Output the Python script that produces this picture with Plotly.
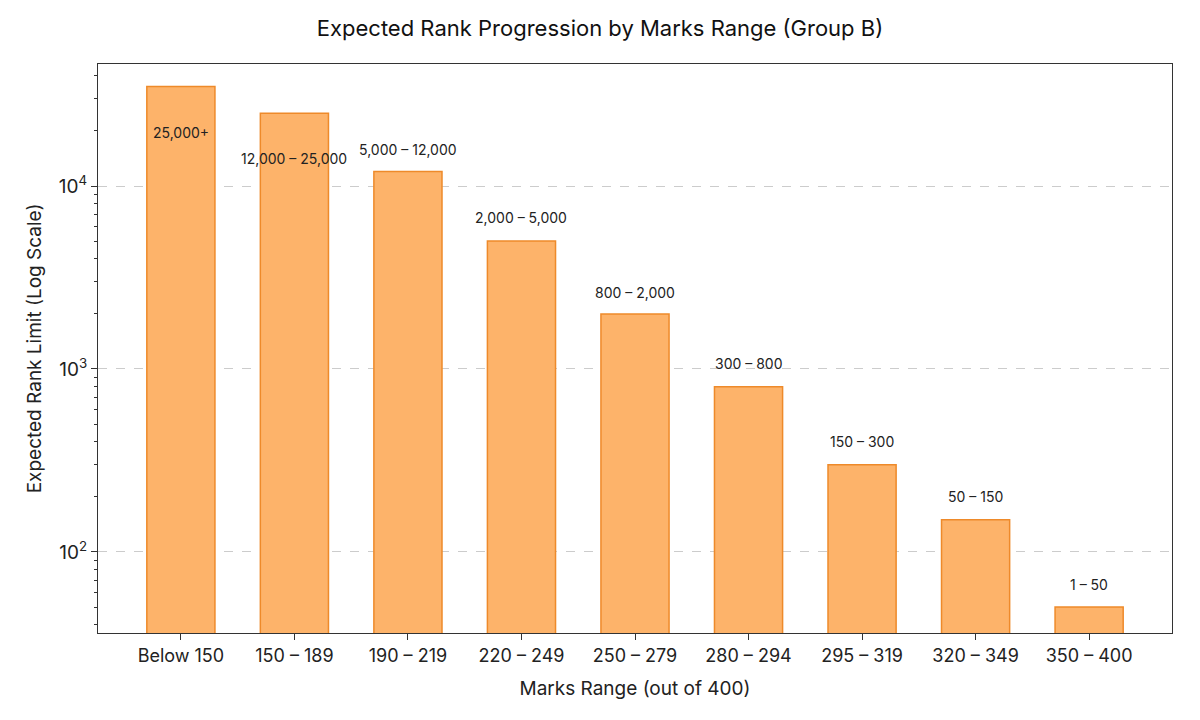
import math
import plotly.graph_objects as go

categories = ["Below 150", "150 – 189", "190 – 219", "220 – 249", "250 – 279",
              "280 – 294", "295 – 319", "320 – 349", "350 – 400"]
rank_limit = [35000, 25000, 12000, 5000, 2000, 800, 300, 150, 50]
range_labels = ["25,000+", "12,000 – 25,000", "5,000 – 12,000", "2,000 – 5,000",
                "800 – 2,000", "300 – 800", "150 – 300", "50 – 150", "1 – 50"]
label_y = [19500, 14060, 15900, 6690, 2630, 1065, 404, 200, 66]

major_vals = [100, 1000, 10000]
major_text = ["10<sup>2</sup>", "10<sup>3</sup>", "10<sup>4</sup>"]
minor_vals = [m * d for d in (10, 100, 1000, 10000) for m in range(2, 10)]

FONT = "Inter, Roboto, sans-serif"

fig = go.Figure()
fig.add_trace(go.Bar(
    x=list(range(len(categories))), y=rank_limit, width=0.6,
    marker=dict(color="#FDB36A", line=dict(color="#EE8A2A", width=1.5)),
    showlegend=False,
))

for i, (lab, ly) in enumerate(zip(range_labels, label_y)):
    fig.add_annotation(x=i, y=math.log10(ly), yref="y", xref="x", text=lab, showarrow=False,
                       yanchor="middle", xanchor="center",
                       font=dict(family=FONT, size=14, color="#222"))

fig.update_layout(
    width=1200, height=720,
    margin=dict(l=98, r=28, t=64, b=87),
    paper_bgcolor="white", plot_bgcolor="white",
    title=dict(text="Expected Rank Progression by Marks Range (Group B)",
               x=0.5, xanchor="center", y=1 - 28 / 720, yanchor="middle",
               font=dict(family=FONT, size=22, color="#111")),
    font=dict(family=FONT, color="#222"),
    bargap=0.4,
)
fig.update_xaxes(
    range=[-0.73, 8.73], tickmode="array", tickvals=list(range(len(categories))),
    ticktext=categories, ticks="outside", ticklen=6, tickcolor="#333",
    showline=True, linecolor="#333", linewidth=1.2, mirror=True, showgrid=False,
    tickfont=dict(family=FONT, size=18, color="#222"),
    title=dict(text="Marks Range (out of 400)", font=dict(family=FONT, size=19, color="#222"),
               standoff=16),
)
fig.update_yaxes(
    type="log", range=[1.557, 4.667],
    tickmode="array", tickvals=major_vals, ticktext=major_text,
    ticks="outside", ticklen=6, tickcolor="#333",
    showline=True, linecolor="#333", linewidth=1.2, mirror=True,
    showgrid=True, gridcolor="#CCCCCC", griddash="dash", gridwidth=1,
    zeroline=False,
    minor=dict(tickmode="array", tickvals=minor_vals, ticks="outside", ticklen=3,
               tickcolor="#333", showgrid=False),
    tickfont=dict(family=FONT, size=19, color="#222"),
    title=dict(text="Expected Rank Limit (Log Scale)", font=dict(family=FONT, size=19, color="#222"),
               standoff=12),
)

fig.write_html("out.html")
